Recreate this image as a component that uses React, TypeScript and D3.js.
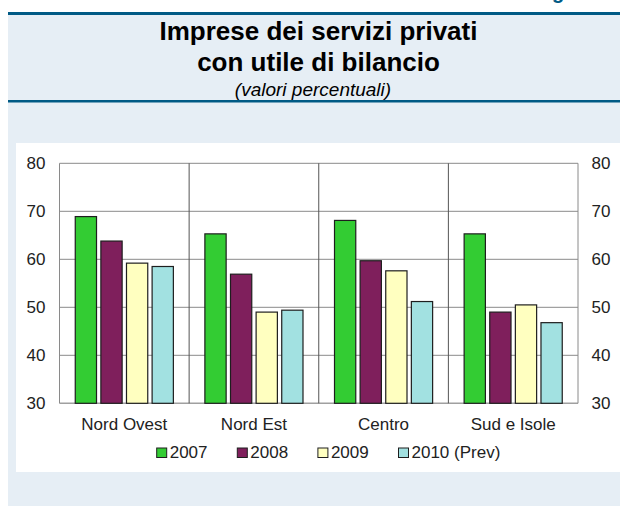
import React from "react";
import * as d3 from "d3";

const categories = ["Nord Ovest", "Nord Est", "Centro", "Sud e Isole"];
const seriesNames = ["2007", "2008", "2009", "2010 (Prev)"];
const values2007 = [68.9, 65.3, 68.1, 65.3];
const values2008 = [63.8, 56.9, 59.7, 49.0];
const values2009 = [59.2, 49.0, 57.6, 50.5];
const values2010 = [58.5, 49.4, 51.2, 46.8];
const seriesValues = [values2007, values2008, values2009, values2010];
const seriesColors = ["#33cc33", "#7f1f5c", "#ffffc0", "#a2e1e1"];
const yTicks = [30, 40, 50, 60, 70, 80];

const FONT = "'Liberation Sans', Arial, sans-serif";

export default function App() {
  const W = 620;
  const H = 506;
  const plotL = 59.5;
  const plotR = 578;
  const plotT = 163.3;
  const plotB = 403.3;

  const y = d3.scaleLinear().domain([30, 80]).range([plotB, plotT]);
  const x0 = d3.scaleBand<string>().domain(categories).range([plotL, plotR]).padding(0);
  const x1 = d3
    .scaleBand<string>()
    .domain(seriesNames)
    .range([0, x0.bandwidth()])
    .paddingInner(0.17)
    .paddingOuter(0.615);

  const legendX = d3.scaleBand<string>().domain(seriesNames).range([156.7, 156.7 + 80.6 * 4]);

  return (
    <svg
      width={W}
      height={H}
      style={{ position: "absolute", left: 0, top: 0, background: "#ffffff" }}
      fontFamily={FONT}
    >
      {/* outer panel */}
      <rect x={8} y={13} width={W - 8} height={H - 13} fill="#e6eef5" />
      <rect x={8} y={12} width={W - 8} height={3} fill="#005a85" />
      <rect x={8} y={100} width={W - 8} height={2.5} fill="#005a85" />
      <text x={552} y={-1.5} fontSize={20} fontWeight="bold" fill="#005a85">
        g
      </text>

      {/* titles */}
      <text x={318.5} y={40} textAnchor="middle" fontSize={26} fontWeight="bold" fill="#000">
        Imprese dei servizi privati
      </text>
      <text x={318.5} y={71} textAnchor="middle" fontSize={26} fontWeight="bold" fill="#000">
        con utile di bilancio
      </text>
      <text x={313} y={95.5} textAnchor="middle" fontSize={19} fontStyle="italic" fill="#000">
        (valori percentuali)
      </text>

      {/* white chart area */}
      <rect x={16} y={143} width={W - 16} height={329} fill="#ffffff" />

      {/* gridlines */}
      {yTicks.map((t) => (
        <line
          key={"g" + t}
          x1={plotL}
          x2={plotR}
          y1={y(t)}
          y2={y(t)}
          stroke={t === 30 ? "#a0a0a0" : "#8a8a8a"}
          strokeWidth={t === 30 ? 1.5 : 1}
        />
      ))}
      <line x1={plotL} x2={plotL} y1={plotT} y2={plotB} stroke="#8a8a8a" strokeWidth={1} />
      <line x1={plotR} x2={plotR} y1={plotT} y2={plotB} stroke="#8a8a8a" strokeWidth={1} />
      {categories.slice(1).map((c) => (
        <line
          key={"d" + c}
          x1={x0(c)!}
          x2={x0(c)!}
          y1={plotT}
          y2={plotB}
          stroke="#555555"
          strokeWidth={1}
        />
      ))}

      {/* bars */}
      {categories.map((c, ci) =>
        seriesNames.map((s, si) => {
          const v = seriesValues[si][ci];
          const bx = x0(c)! + x1(s)!;
          return (
            <rect
              key={c + s}
              x={bx}
              y={y(v)}
              width={x1.bandwidth()}
              height={y(30) - y(v)}
              fill={seriesColors[si]}
              stroke="#1e1e1e"
              strokeWidth={1.2}
            />
          );
        })
      )}

      {/* y axis labels */}
      {yTicks.map((t) => (
        <g key={"l" + t}>
          <text x={45.5} y={y(t) + 6} textAnchor="end" fontSize={17} fill="#222">
            {t}
          </text>
          <text x={591.5} y={y(t) + 6} textAnchor="start" fontSize={17} fill="#222">
            {t}
          </text>
        </g>
      ))}

      {/* category labels */}
      {categories.map((c) => (
        <text
          key={"c" + c}
          x={x0(c)! + x0.bandwidth() / 2}
          y={429.5}
          textAnchor="middle"
          fontSize={17}
          fill="#222"
        >
          {c}
        </text>
      ))}

      {/* legend */}
      {seriesNames.map((s, si) => (
        <g key={"lg" + s}>
          <rect
            x={legendX(s)!}
            y={448}
            width={10}
            height={9.5}
            fill={seriesColors[si]}
            stroke="#1e1e1e"
            strokeWidth={1}
          />
          <text x={legendX(s)! + 13} y={457.5} fontSize={17} fill="#222">
            {s}
          </text>
        </g>
      ))}
    </svg>
  );
}
